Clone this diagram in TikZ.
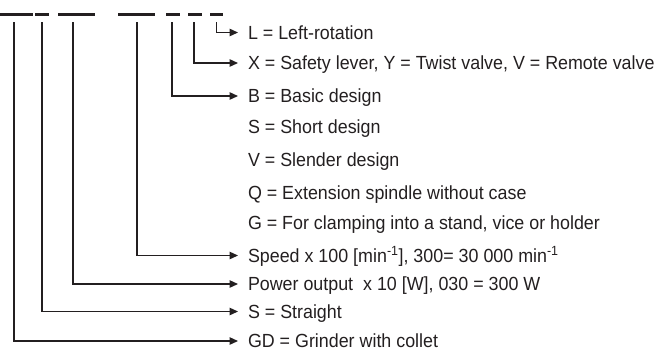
\documentclass[tikz,border=0pt]{standalone}
\usepackage{fontspec}
\setmainfont[FakeStretch=0.94]{Liberation Sans}
\usetikzlibrary{arrows.meta}
\definecolor{ink}{HTML}{231F20}
\begin{document}
\begin{tikzpicture}[x=1pt,y=-1pt,
  lbl/.style={anchor=west,inner xsep=0pt,inner ysep=0pt,outer xsep=10pt,outer ysep=0pt,
    text height=13.5pt,text depth=0pt,font=\fontsize{19}{21}\selectfont,text=ink},
  dashbar/.style={draw=ink,line width=2.6pt},
  conn/.style={draw=ink,line width=1.3pt,-{Triangle[length=8.5pt,width=7.5pt]}}]
\useasboundingbox (0,0) rectangle (665,351);
% code dashes
\draw[dashbar] (0,14.7) -- (33,14.7);
\draw[dashbar] (35,14.7) -- (49,14.7);
\draw[dashbar] (58,14.7) -- (95,14.7);
\draw[dashbar] (118,14.7) -- (155,14.7);
\draw[dashbar] (166,14.7) -- (180,14.7);
\draw[dashbar] (188,14.7) -- (202,14.7);
\draw[dashbar] (210,14.7) -- (223,14.7);
% connector tops
\coordinate (c1) at (14,22);
\coordinate (c2) at (42,22);
\coordinate (c3) at (73,22);
\coordinate (c4) at (137,22);
\coordinate (c5) at (172,22);
\coordinate (c6) at (194,22);
\coordinate (c7) at (216.5,22);
% labels
\node[lbl] (nL)  at (238,32.5) {L = Left-rotation};
\node[lbl] (nX)  at (238,63)   {X = Safety lever, Y = Twist valve, V = Remote valve};
\node[lbl] (nB)  at (238,96)   {B = Basic design};
\node[lbl] (nS)  at (238,127)  {S = Short design};
\node[lbl] (nV)  at (238,160)  {V = Slender design};
\node[lbl] (nQ)  at (238,193)  {Q = Extension spindle without case};
\node[lbl] (nG)  at (238,223)  {G = For clamping into a stand, vice or holder};
\node[lbl] (nSp) at (238,255.5){Speed x 100 [min\textsuperscript{-1}], 300= 30 000 min\textsuperscript{-1}};
\node[lbl] (nP)  at (238,284)  {Power output\ \ x 10 [W], 030 = 300 W};
\node[lbl] (nSt) at (238,311.5){S = Straight};
\node[lbl] (nGD) at (238,341)  {GD = Grinder with collet};
% connectors
\draw[conn] (c7) |- (nL.west);
\draw[conn] (c6) |- (nX.west);
\draw[conn] (c5) |- (nB.west);
\draw[conn] (c4) |- (nSp.west);
\draw[conn] (c3) |- (nP.west);
\draw[conn] (c2) |- (nSt.west);
\draw[conn] (c1) |- (nGD.west);
\end{tikzpicture}
\end{document}
